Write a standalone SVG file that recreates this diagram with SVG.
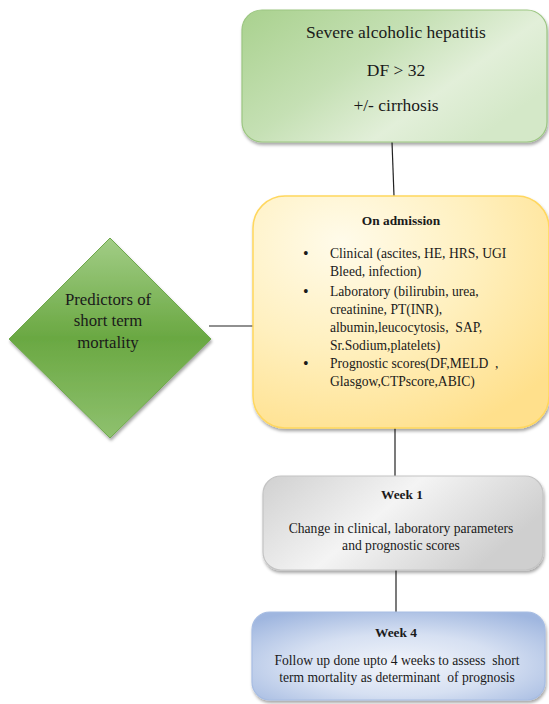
<svg xmlns="http://www.w3.org/2000/svg" width="549" height="704" viewBox="0 0 549 704">
<style>
  text { font-family: "Liberation Serif", "Times New Roman", serif; fill: #1a1a1a; }
  .t17 { font-size: 17.5px; }
  .td { font-size: 16.8px; }
  .t13 { font-size: 13.6px; }
  .h { font-size: 13.4px; font-weight: bold; }
  .bul { font-size: 16px; }
  .c { text-anchor: middle; }
  .conn { stroke: #222; stroke-width: 1.2; fill: none; }
</style>
<defs>
  <filter id="sh" x="-10%" y="-10%" width="125%" height="130%">
    <feDropShadow dx="1" dy="2.5" stdDeviation="1.5" flood-color="#000" flood-opacity="0.35"/>
  </filter>
  <linearGradient id="gGreen" x1="0" y1="0" x2="1" y2="0.6">
    <stop offset="0" stop-color="#a9d18e"/>
    <stop offset="0.45" stop-color="#c5e0b4"/>
    <stop offset="0.75" stop-color="#e2efd9"/>
    <stop offset="1" stop-color="#d4e8c8"/>
  </linearGradient>
  <radialGradient id="gYellow" cx="0.3" cy="0.2" r="0.9">
    <stop offset="0" stop-color="#fffbea"/>
    <stop offset="0.5" stop-color="#fff0bf"/>
    <stop offset="1" stop-color="#ffe08c"/>
  </radialGradient>
  <linearGradient id="gGray" x1="0" y1="0" x2="1" y2="0.4">
    <stop offset="0" stop-color="#d0d0d0"/>
    <stop offset="0.5" stop-color="#f4f4f4"/>
    <stop offset="1" stop-color="#cfcfcf"/>
  </linearGradient>
  <radialGradient id="gBlue" cx="0.5" cy="0.6" r="0.7">
    <stop offset="0" stop-color="#f2f5fb"/>
    <stop offset="0.5" stop-color="#d6e0f2"/>
    <stop offset="1" stop-color="#9fb6df"/>
  </radialGradient>
  <linearGradient id="gDiamond" x1="0" y1="0" x2="0" y2="1">
    <stop offset="0" stop-color="#a2cd86"/>
    <stop offset="0.5" stop-color="#6aa842"/>
    <stop offset="1" stop-color="#8fc16f"/>
  </linearGradient>
</defs>

<g id="connectors">
  <line class="conn" x1="392" y1="142" x2="394" y2="196"/>
  <line class="conn" x1="209" y1="326" x2="253" y2="326"/>
  <line class="conn" x1="395" y1="428" x2="395" y2="476"/>
  <line class="conn" x1="396" y1="570" x2="396" y2="612"/>
</g>

<g id="node-severe">
  <rect x="242" y="10" width="305" height="132" rx="20" fill="url(#gGreen)" stroke="#9cc682" stroke-width="1.2" filter="url(#sh)"/>
  <text class="t17 c" x="396" y="38">Severe alcoholic hepatitis</text>
  <text class="t17 c" x="396" y="76">DF &gt; 32</text>
  <text class="t17 c" x="396" y="111">+/- cirrhosis</text>
</g>

<g id="node-admission">
  <rect x="253" y="196" width="296" height="232" rx="32" fill="url(#gYellow)" stroke="#ffd75e" stroke-width="1.5" filter="url(#sh)"/>
  <text class="h c" x="401" y="225">On admission</text>
  <g class="t13">
    <text class="bul" x="303" y="259">•</text>
    <text x="330" y="258">Clinical (ascites, HE, HRS, UGI</text>
    <text x="330" y="276">Bleed, infection)</text>
    <text class="bul" x="303" y="297">•</text>
    <text x="330" y="296">Laboratory (bilirubin, urea,</text>
    <text x="330" y="314">creatinine, PT(INR),</text>
    <text x="330" y="332" xml:space="preserve">albumin,leucocytosis,  SAP,</text>
    <text x="330" y="350">Sr.Sodium,platelets)</text>
    <text class="bul" x="303" y="369">•</text>
    <text x="330" y="368" xml:space="preserve">Prognostic scores(DF,MELD  ,</text>
    <text x="330" y="386">Glasgow,CTPscore,ABIC)</text>
  </g>
</g>

<g id="node-predictors">
  <polygon points="110,238 211,339 110,438 9,339" fill="url(#gDiamond)" stroke="#6ea94b" stroke-width="1" filter="url(#sh)"/>
  <text class="td c" x="108" y="305">Predictors of</text>
  <text class="td c" x="108" y="326">short term</text>
  <text class="td c" x="108" y="348">mortality</text>
</g>

<g id="node-week1">
  <rect x="263" y="476" width="280" height="94" rx="18" fill="url(#gGray)" stroke="#c4c4c4" stroke-width="1.2" filter="url(#sh)"/>
  <text class="h c" x="402" y="499">Week 1</text>
  <text class="t13 c" x="401" y="533">Change in clinical, laboratory parameters</text>
  <text class="t13 c" x="401" y="550">and prognostic scores</text>
</g>

<g id="node-week4">
  <rect x="252" y="612" width="293" height="88" rx="18" fill="url(#gBlue)" stroke="#a7bde3" stroke-width="1.2" filter="url(#sh)"/>
  <text class="h c" x="396" y="637">Week 4</text>
  <text class="t13 c" x="397" y="665" xml:space="preserve">Follow up done upto 4 weeks to assess  short</text>
  <text class="t13 c" x="397" y="682" xml:space="preserve">term mortality as determinant  of prognosis</text>
</g>
</svg>
